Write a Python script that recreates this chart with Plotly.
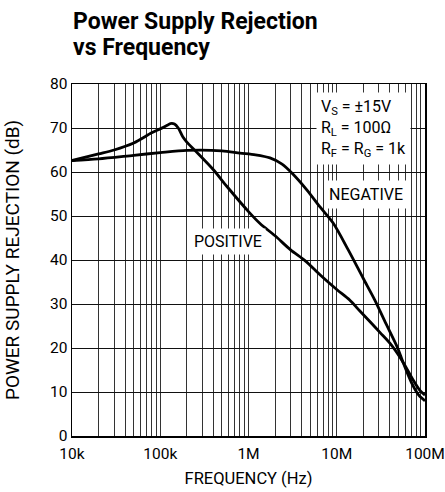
import plotly.graph_objects as go

# ---- data ----
freq_pos = [1e4, 2e4, 3e4, 5e4, 8e4, 1e5, 1.2e5, 1.3e5, 1.45e5, 1.6e5, 1.8e5, 2e5, 2.5e5, 4e5, 5.7e5,
            1e6, 1.35e6, 2e6, 3e6, 4.4e6, 6.5e6, 1e7, 1.4e7, 1.83e7, 2.4e7, 3.1e7, 4e7, 5.6e7,
            7.3e7, 8.8e7, 1e8]
psr_pos = [62.6, 64.1, 65.0, 66.6, 68.9, 69.8, 70.6, 71.0, 70.9, 70.0, 68.0, 66.8, 64.8, 60.5, 56.7,
           51.0, 48.3, 45.5, 42.3, 39.8, 36.6, 33.3, 30.9, 28.4, 25.9, 23.5, 21.1, 16.9,
           12.8, 10.3, 9.3]

freq_neg = [1e4, 2e4, 5e4, 1e5, 2e5, 5e5, 8e5, 1.2e6, 1.75e6, 2.4e6, 3.2e6, 4.6e6, 6.5e6, 9.1e6,
            1.35e7, 2e7, 2.7e7, 3.6e7, 4.9e7, 5.6e7, 7e7, 8.5e7, 1e8]
psr_neg = [62.6, 63.0, 63.8, 64.4, 64.9, 64.8, 64.3, 63.9, 63.2, 61.8, 59.5, 55.9, 52.0, 48.4,
           42.3, 35.8, 30.9, 25.6, 20.0, 16.9, 12.2, 9.3, 8.0]

decades = [1e4, 1e5, 1e6, 1e7, 1e8]
decade_labels = ["10k", "100k", "1M", "10M", "100M"]
y_ticks = [0, 10, 20, 30, 40, 50, 60, 70, 80]
minor_mult = [2, 3, 4, 5, 6, 7, 8, 9]

x_minor = [d * m for d in decades[:-1] for m in minor_mult]

FONT = "Roboto, 'DejaVu Sans Condensed', sans-serif"
GRID = "#333"

fig = go.Figure()
for fx, fy in [(freq_pos, psr_pos), (freq_neg, psr_neg)]:
    fig.add_trace(go.Scatter(x=fx, y=fy, mode="lines",
                             line=dict(color="black", width=2.8, shape="spline", smoothing=0.8),
                             showlegend=False, hoverinfo="skip"))

fig.update_layout(
    width=445, height=492,
    margin=dict(l=72, r=20, t=84, b=56),
    paper_bgcolor="white", plot_bgcolor="white",
    font=dict(family=FONT, size=16, color="black"),
)
fig.update_xaxes(
    type="log", range=[4, 8], automargin=False,
    tickmode="array", tickvals=decades, ticktext=decade_labels,
    ticklabeloverflow="allow", ticklabelstandoff=3,
    showgrid=True, gridcolor=GRID, gridwidth=1,
    minor=dict(tickmode="array", tickvals=x_minor, showgrid=True,
               gridcolor=GRID, gridwidth=1, ticks=""),
    showline=True, mirror=True, linecolor="black", linewidth=1.5,
    ticks="", tickfont=dict(size=15.5),
    title=dict(text="FREQUENCY (Hz)", font=dict(size=16.5), standoff=10),
    zeroline=False,
)
fig.update_yaxes(
    range=[0, 80], tickvals=y_ticks, automargin=False,
    showgrid=True, gridcolor="#111", gridwidth=1,
    showline=True, mirror=True, linecolor="black", linewidth=1.5,
    ticks="", tickfont=dict(size=15.5),
    title=dict(text="POWER SUPPLY REJECTION (dB)", font=dict(size=19), standoff=25),
    zeroline=False,
)

# title (two lines)
fig.add_annotation(text="<b>Power Supply Rejection</b>", xref="paper", yref="paper",
                   x=0, y=(436 - 21) / 352, xanchor="left", yanchor="middle",
                   showarrow=False, borderpad=0,
                   font=dict(family=FONT, size=23, color="black"))
fig.add_annotation(text="<b>vs Frequency</b>", xref="paper", yref="paper",
                   x=0, y=(436 - 48) / 352, xanchor="left", yanchor="middle",
                   showarrow=False, borderpad=0,
                   font=dict(family=FONT, size=23, color="black"))

# curve labels
fig.add_annotation(text="POSITIVE", x=5.77, y=44.1, xref="x", yref="y",
                   showarrow=False, bgcolor="white", borderpad=3,
                   font=dict(family=FONT, size=16, color="black"))
fig.add_annotation(text="NEGATIVE", x=7.33, y=54.8, xref="x", yref="y",
                   showarrow=False, bgcolor="white", borderpad=4,
                   font=dict(family=FONT, size=16, color="black"))

# conditions box
fig.add_annotation(text="V<sub>S</sub> = ±15V<br>R<sub>L</sub> = 100Ω<br>R<sub>F</sub> = R<sub>G</sub> = 1k",
                   x=6.76, y=78.2, xref="x", yref="y", xanchor="left", yanchor="top",
                   align="left", showarrow=False, bgcolor="white", borderpad=4,
                   font=dict(family=FONT, size=16, color="black"))

# remove the default page margin so the figure fills the 445x492 window exactly
fig.write_html("out.html",
               config={"displayModeBar": False, "staticPlot": True},
               post_script="document.body.style.margin='0';document.body.style.overflow='hidden';")
